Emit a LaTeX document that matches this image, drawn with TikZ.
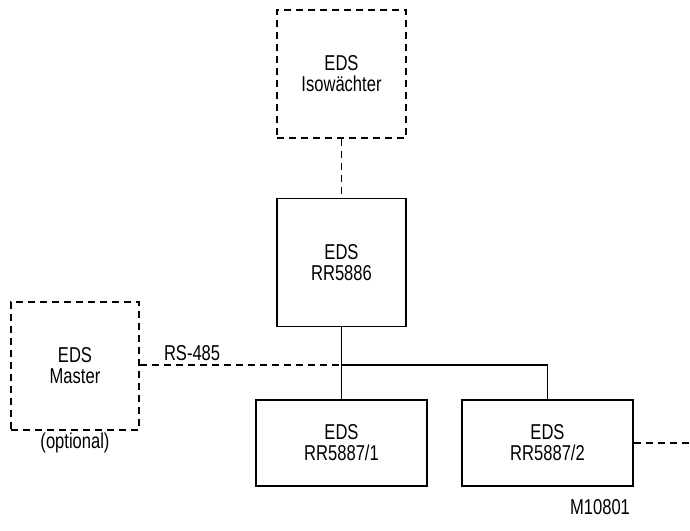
\documentclass[tikz,border=0pt]{standalone}
\usepackage{fontspec}
\setmainfont[FakeStretch=0.77]{Liberation Sans}
\usetikzlibrary{positioning}

\begin{document}
\begin{tikzpicture}[x=1pt, y=-1pt, line width=1.2pt,
		txt/.style={font=\fontsize{21.5}{21}\selectfont, align=center, inner sep=0pt},
		unit/.style={txt, draw},
		bigunit/.style={unit, minimum width=129pt, minimum height=128pt},
		smallunit/.style={unit, minimum width=171pt, minimum height=86pt},
		optional/.style={dash pattern=on 7pt off 5pt}]
		\useasboundingbox (0,0) rectangle (690,530);
		% units
		\node[bigunit, optional] (iso) at (341.5,74) {EDS\\Isowächter};
		\node[bigunit] (rr) at (341.5,262.5) {EDS\\RR5886};
		\node[bigunit, optional, minimum width=128pt] (master) at (75,366) {EDS\\Master};
		\node[txt, below=2pt of master] (opt) {(optional)};
		\node[smallunit] (sub1) at (341.5,443) {EDS\\RR5887/1};
		\node[smallunit] (sub2) at (547.5,443) {EDS\\RR5887/2};
		\node[txt] (mark) at (600,507) {M10801};
		% bus
		\coordinate (bus) at (341.5,365);
		\coordinate (tap) at (sub2.north |- bus);
		\coordinate (cont) at (690,443);
		\draw[optional] (iso) -- (rr);
		\draw (rr) -- (sub1);
		\draw (bus) -- (tap) -- (sub2);
		\draw[optional] (master.east |- bus) -- node[txt, above=4pt, pos=0.26] (rs) {RS-485} (bus);
		\draw[optional] (sub2) -- (cont);
	\end{tikzpicture}
\end{document}
